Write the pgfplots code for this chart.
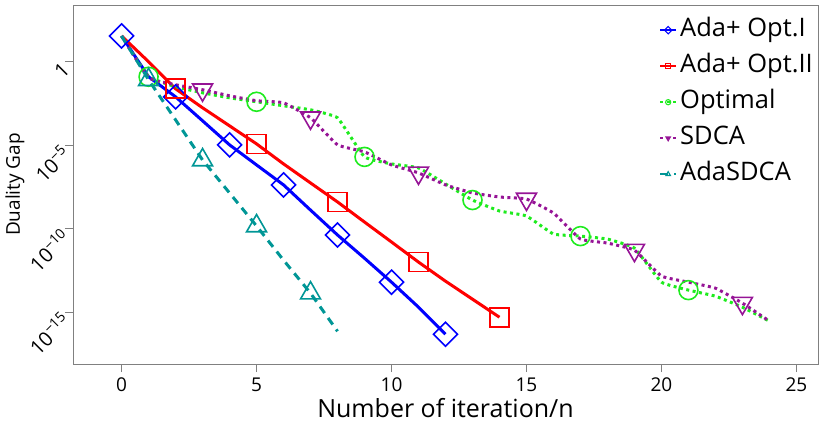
\documentclass[border=0pt]{standalone}
\usepackage{fontspec}
\setmainfont{Open Sans}
\usepackage{pgfplots}
\pgfplotsset{compat=1.18}
\definecolor{cblue}{RGB}{0,0,255}
\definecolor{cred}{RGB}{255,0,0}
\definecolor{cgreen}{RGB}{30,235,30}
\definecolor{cpurple}{RGB}{150,20,150}
\definecolor{cteal}{RGB}{0,150,150}
\begin{document}
\begin{tikzpicture}
\useasboundingbox (-73pt,-61pt) rectangle (749pt,364pt);
\begin{axis}[
  at={(0pt,0pt)}, anchor=south west,
  scale only axis, width=745pt, height=359pt,
  ymode=log,
  xmin=-1.8, xmax=25.8,
  ymin=7.9e-19, ymax=2.5e3,
  xtick={0,5,10,15,20,25},
  ytick={1,1e-5,1e-10,1e-15},
  yticklabels={1,10\textsuperscript{−5},10\textsuperscript{−10},10\textsuperscript{−15}},
  minor ytick={}, yminorticks=false,
  /pgf/number format/assume math mode=true,
  tick pos=left, tick align=outside,
  major tick length=8pt,
  every tick/.style={draw=gray, line width=0.8pt},
  axis line style={draw=gray, line width=0.8pt},
  xticklabel style={font=\fontsize{19}{22}\selectfont, yshift=-2pt},
  yticklabel style={font=\fontsize{20}{22}\selectfont, rotate=45, anchor=east, xshift=1pt, yshift=-4pt},
  xlabel={Number of iteration/n},
  xlabel style={font=\fontsize{25}{28}\selectfont, at={(axis description cs:0.5,0)}, anchor=north, yshift=-31pt},
  ylabel={Duality Gap},
  ylabel style={font=\fontsize{19}{22}\selectfont, at={(axis description cs:-0.078,0.5)}, anchor=center},
  legend style={draw=none, fill=none, inner sep=0pt, at={(rel axis cs:1,1)}, anchor=north east,
    xshift=-5pt, yshift=-13pt,
    font=\fontsize{25.5}{28}\selectfont, row sep=12pt,
    nodes={inner sep=0pt, text height=18pt, text depth=6pt},
    /tikz/every odd column/.style={column sep=3pt}},
  legend cell align=left,
  legend image code/.code={\draw[mark indices={2}, line width=2pt] plot coordinates {(0pt,0pt) (8pt,0pt) (16pt,0pt)};},
  legend image post style={mark size=2.6pt, every mark/.append style={line width=1.1pt}},
  every axis plot/.append style={line width=3pt},
]
\addplot[cblue, mark=square, mark size=8.5pt, mark options={solid, rotate=45, line width=1.6pt}, mark indices={1,3,5,7,9,11,13}]
coordinates {(0,3.5e1) (1,1.26e-1) (2,7.9e-3) (3,2.9e-4) (4,1.05e-5) (5,6.6e-7) (6,4.2e-8) (7,1.3e-9) (8,4.2e-11) (9,1.7e-12) (10,6.3e-14) (11,2.0e-15) (12,4.8e-17)};
\addlegendentry{Ada+ Opt.I}
\addplot[cred, mark=square, mark size=9.5pt, mark options={solid, line width=1.6pt}, mark indices={3,6,9,12,15}]
coordinates {(0,3.5e1) (1,1.0) (2,2.4e-2) (3,1.74e-3) (4,1.45e-4) (5,1.2e-5) (6,7.6e-7) (7,5.5e-8) (8,4.0e-9) (9,2.5e-10) (10,1.6e-11) (11,1.0e-12) (12,7.2e-14) (13,6.0e-15) (14,5.0e-16)};
\addlegendentry{Ada+ Opt.II}
\addplot[cgreen, smooth, tension=0.2, dash pattern=on 3pt off 3.5pt, mark=o, mark size=9.5pt, mark options={solid, line width=1.6pt}, mark indices={2,6,10,14,18,22}]
coordinates {(0,3.5e1) (1,1.26e-1) (2,3.2e-2) (3,1.38e-2) (4,6.9e-3) (5,4.0e-3) (6,2.3e-3) (7,1.32e-3) (8,4.4e-4) (9,2.0e-6) (10,7.6e-7) (11,4.4e-7) (12,4.8e-8) (13,5.2e-9) (14,1.15e-9) (15,5.8e-10) (16,4.8e-11) (17,3.6e-11) (18,2.4e-11) (19,6.9e-12) (20,6.3e-14) (21,2.1e-14) (22,9.1e-15) (23,2.0e-15) (24,2.9e-16)};
\addlegendentry{Optimal}
\addplot[cpurple, smooth, tension=0.2, dash pattern=on 3pt off 3.5pt, mark=triangle, mark size=11.5pt, mark options={solid, rotate=180, line width=1.6pt}, mark indices={4,8,12,16,20,24}]
coordinates {(0,3.5e1) (1,1.1e-1) (2,4.2e-2) (3,2.1e-2) (4,9.1e-3) (5,4.6e-3) (6,3.5e-3) (7,4.4e-4) (8,1.05e-5) (9,4.0e-6) (10,6.6e-7) (11,2.2e-7) (12,4.2e-8) (13,1.38e-8) (14,7.9e-9) (15,6.0e-9) (16,8.7e-10) (17,2.4e-11) (18,1.38e-11) (19,5.2e-12) (20,1.45e-13) (21,6.3e-14) (22,2.75e-14) (23,3.5e-15) (24,2.9e-16)};
\addlegendentry{SDCA}
\addplot[cteal, dash pattern=on 8pt off 6pt, mark=triangle, mark size=11.5pt, mark options={solid, line width=1.6pt}, mark indices={2,4,6,8}]
coordinates {(0,3.5e1) (1,8.3e-2) (2,3.3e-4) (3,1.3e-6) (4,1.38e-8) (5,1.45e-10) (6,1.3e-12) (7,1.38e-14) (8,7.2e-17)};
\addlegendentry{AdaSDCA}
\end{axis}
\end{tikzpicture}
\end{document}
